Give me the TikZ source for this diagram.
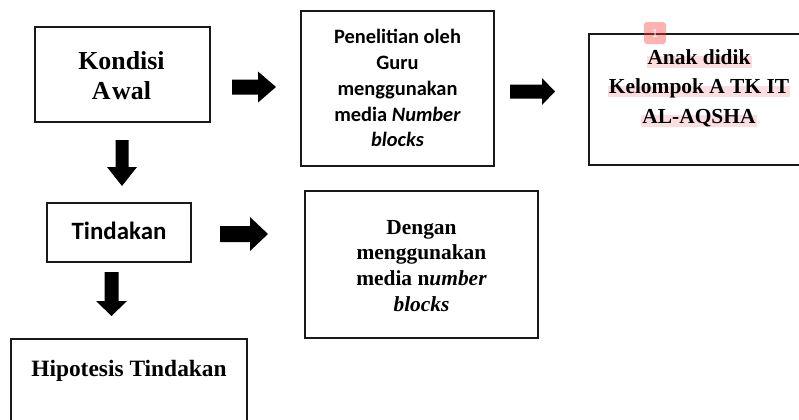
\documentclass[tikz,border=0pt]{standalone}
\usepackage{fontspec}
\setmainfont{Liberation Serif}
\newfontfamily\calibrifont{Carlito}
\definecolor{boxline}{RGB}{25,25,25}
\definecolor{hlpink}{RGB}{252,222,224}
\definecolor{badgecol}{RGB}{250,60,60}
\begin{document}
\begin{tikzpicture}[x=1bp,y=-1bp,
  box/.style={draw=boxline, line width=1.5bp, inner sep=0pt},
  lbl/.style={align=center, inner sep=0pt},
  hl/.style={fill=hlpink, inner sep=1bp, text height=0.72em, text depth=0.24em, font=\bfseries\fontsize{21.5}{25}\selectfont},
  barrow/.style={fill=black}]
\useasboundingbox (0,0) rectangle (799,419);
\clip (0,0) rectangle (799,419);

% boxes
\node[box, minimum width=175bp, minimum height=95bp] (kondisi) at (122.5,74.5) {};
\node[box, minimum width=193bp, minimum height=155bp] (penelitian) at (397.5,88.5) {};
\node[box, line width=2bp, minimum width=221bp, minimum height=131bp] (anak) at (699.5,99.5) {};
\node[box, minimum width=144bp, minimum height=59bp] (tindakan) at (119,232.5) {};
\node[box, minimum width=233bp, minimum height=147bp] (dengan) at (421.5,264.5) {};
\node[box, minimum width=236bp, minimum height=110bp] (hipotesis) at (129,394) {};

% texts
\node[lbl, font=\bfseries\fontsize{26}{30}\selectfont] (kondisiT) at (121.5,76) {Kondisi\\A\kern1.5pt wal};
\node[lbl, font=\calibrifont\bfseries\fontsize{20.5}{26}\selectfont] (penelitianT) at (397.5,88) {Penelitian oleh\\Guru\\menggunakan\\media \textit{Number}\\\textit{blocks}};
\node[hl] (anak1) at (699,62) {Anak didik};
\node[hl] (anak2) at (699,91.5) {Kelompok A TK IT};
\node[hl] (anak3) at (699,121) {AL-AQSHA};
\node[lbl, font=\calibrifont\bfseries\fontsize{25}{30}\selectfont] (tindakanT) at (119,231) {Tindakan};
\node[lbl, font=\bfseries\fontsize{21.5}{26}\selectfont] (denganT) at (421.5,266) {Dengan\\menggunakan\\media n\textit{umber}\\\textit{blocks}};
\node[lbl, font=\bfseries\fontsize{23.5}{28}\selectfont] (hipotesisT) at (129,371) {Hipotesis Tindakan};

% annotation badge
\node[fill=badgecol, fill opacity=0.4, text opacity=1, rounded corners=3bp, minimum width=22bp, minimum height=22bp, inner sep=0pt, text=white, font=\sffamily\fontsize{12}{13}\selectfont] (badge) at (655,33) {1};

% block arrows
\fill[barrow] (232,79.5) -- (258,79.5) -- (258,71.5) -- (276,87) -- (258,102.5) -- (258,94.5) -- (232,94.5) -- cycle;
\fill[barrow] (220,226) -- (250,226) -- (250,217) -- (268,234) -- (250,251) -- (250,242) -- (220,242) -- cycle;
\fill[barrow] (510,84.5) -- (542,84.5) -- (542,78) -- (555,91.5) -- (542,105) -- (542,98.5) -- (510,98.5) -- cycle;
\fill[barrow] (115.5,140) -- (128.5,140) -- (128.5,167) -- (137,167) -- (122,186) -- (107,167) -- (115.5,167) -- cycle;
\fill[barrow] (104.5,272) -- (118.5,272) -- (118.5,301) -- (127,301) -- (111.5,316) -- (96,301) -- (104.5,301) -- cycle;
\end{tikzpicture}
\end{document}
